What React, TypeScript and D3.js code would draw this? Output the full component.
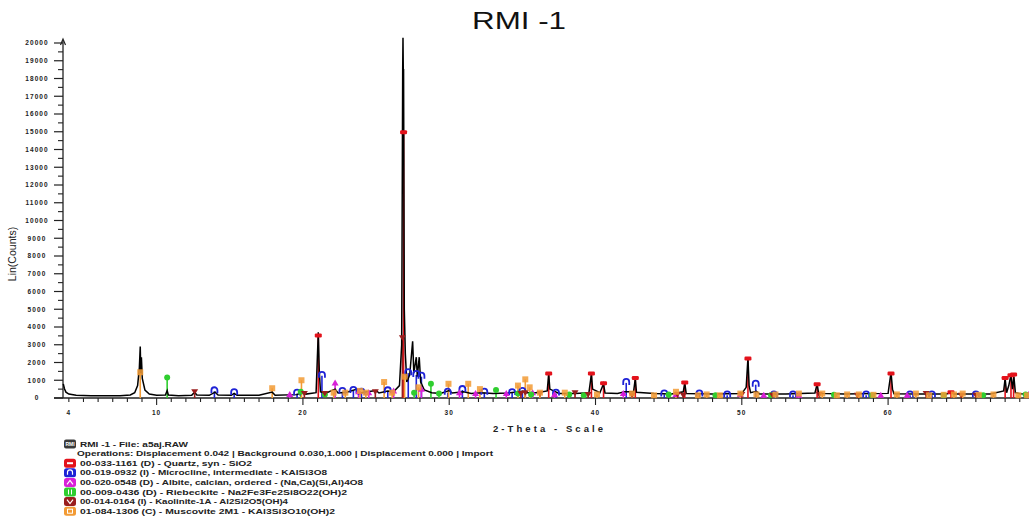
import React from 'react';
import * as d3 from 'd3';

const title = 'RMI -1';
const yLabel = 'Lin(Counts)';
const xLabel = '2-Theta - Scale';
const xTickLabels = [4, 10, 20, 30, 40, 50, 60];
const yTickValues = d3.range(0, 20001, 1000);

// measured pattern (2-theta, counts)
const profile: [number, number][] = [
  [3.62, 800], [3.7, 520], [3.8, 330], [4.0, 220], [4.5, 160], [5.5, 130], [6.5, 120], [7.5, 130],
  [8.2, 170], [8.5, 300], [8.7, 700], [8.82, 1700], [8.88, 2900], [8.92, 1400], [8.96, 2300], [9.02, 1100],
  [9.2, 450], [9.5, 220], [10.0, 150], [10.6, 170], [10.72, 420], [10.8, 170], [11.5, 130], [12.4, 160],
  [12.6, 320], [12.75, 170], [13.6, 150], [14.0, 330], [14.2, 170], [15.1, 150], [15.3, 260], [15.5, 150],
  [17.0, 150], [17.9, 330], [18.1, 160], [19.6, 190], [20.0, 330], [20.2, 220], [20.9, 300], [21.05, 3700],
  [21.12, 1500], [21.2, 350], [21.6, 280], [22.2, 500], [22.4, 280], [23.0, 320], [23.7, 500], [23.9, 280],
  [24.4, 350], [25.0, 420], [25.2, 280], [25.8, 400], [26.2, 350], [26.6, 700], [26.75, 3000], [26.82, 18500],
  [26.84, 20300], [26.86, 18500], [26.88, 18500], [26.93, 5000], [27.0, 2500], [27.1, 900], [27.3, 1300], [27.5, 3200], [27.58, 1400],
  [27.75, 2300], [27.82, 1200], [27.95, 2300], [28.05, 900], [28.3, 450], [28.8, 300], [29.4, 260], [30.0, 420],
  [30.2, 280], [31.0, 350], [31.5, 260], [32.2, 300], [33.0, 250], [34.0, 280], [35.0, 380], [35.3, 300],
  [36.0, 300], [36.7, 400], [36.8, 1350], [36.88, 500], [37.5, 260], [38.6, 250], [39.55, 300], [39.72, 1350],
  [39.8, 500], [40.3, 300], [40.55, 800], [40.65, 280], [41.5, 260], [42.0, 350], [42.6, 350], [42.72, 1100],
  [42.8, 320], [44.0, 250], [45.2, 230], [46.0, 350], [46.1, 850], [46.2, 250], [48.0, 230], [50.0, 260],
  [50.3, 600], [50.42, 2250], [50.5, 700], [50.6, 300], [51.0, 380], [51.2, 230], [53.0, 230], [55.0, 280],
  [55.15, 800], [55.25, 260], [57.0, 220], [60.0, 260], [60.2, 1450], [60.3, 500], [60.4, 240], [62.0, 220],
  [64.0, 230], [64.4, 330], [64.5, 220], [67.0, 220], [67.9, 400], [68.0, 1100], [68.1, 300], [68.25, 700],
  [68.4, 1300], [68.5, 500], [68.6, 1200], [68.7, 300], [69.0, 240], [69.7, 230],
];

// phase stick patterns (2-theta, counts)
const quartz: [number, number][] = [
  [21.05, 3500], [26.88, 14950], [36.8, 1350], [39.72, 1350], [40.55, 800], [42.72, 1100], [46.1, 850],
  [50.42, 2200], [55.15, 750], [60.2, 1350], [64.3, 300], [68.0, 1100], [68.4, 1250], [68.58, 1300],
];
const microcline: [number, number][] = [
  [13.95, 380], [15.3, 280], [19.6, 250], [21.3, 1250], [22.7, 350], [23.45, 400], [24.0, 300], [25.8, 380],
  [27.2, 1400], [27.75, 1300], [28.1, 1200], [29.9, 300], [30.9, 450], [32.4, 300], [34.3, 280], [35.0, 350],
  [37.3, 250], [42.1, 850], [44.7, 200], [47.1, 200], [49.0, 150], [50.95, 750], [52.2, 150], [53.5, 150],
  [58.5, 150], [61.5, 150], [63.0, 150], [66.0, 150],
];
const albite: [number, number][] = [
  [19.1, 200], [22.2, 850], [23.8, 350], [24.5, 300], [26.2, 400], [28.1, 500], [30.7, 300], [31.8, 250],
  [33.9, 250], [35.7, 300], [37.2, 200], [41.9, 250], [45.5, 200], [49.9, 200], [51.5, 150], [53.9, 150],
  [59.5, 150], [61.3, 150], [69.6, 200],
];
const riebeckite: [number, number][] = [
  [10.72, 1150], [19.85, 350], [21.5, 200], [27.6, 300], [28.75, 800], [29.3, 250], [33.2, 450], [34.7, 250],
  [35.6, 200], [38.2, 200], [39.2, 150], [45.0, 200], [48.2, 150], [52.0, 150], [56.3, 180], [58.9, 150],
  [63.8, 150], [66.5, 150], [69.4, 200],
];
const kaolinite: [number, number][] = [
  [12.6, 350], [20.1, 250], [21.5, 250], [24.95, 350], [26.8, 3400], [34.9, 250], [35.2, 300], [36.2, 250],
  [38.6, 300], [39.5, 200], [42.5, 150], [45.6, 200], [46.0, 150], [50.0, 200], [52.1, 150], [55.3, 200],
  [57.9, 150], [62.6, 250], [65.0, 150], [66.0, 150],
];
const muscovite: [number, number][] = [
  [8.88, 1450], [17.9, 550], [19.9, 1000], [22.1, 300], [22.9, 300], [23.9, 400], [24.3, 300], [25.55, 900],
  [26.1, 300], [26.95, 1200], [27.9, 600], [29.95, 800], [31.3, 800], [32.1, 500], [34.7, 700], [35.2, 1050],
  [35.5, 600], [36.2, 300], [37.9, 300], [40.1, 200], [42.5, 250], [44.0, 150], [45.5, 350], [47.0, 150],
  [47.6, 200], [48.5, 150], [49.9, 250], [51.0, 200], [52.3, 200], [53.9, 250], [55.5, 250], [56.5, 150],
  [57.2, 200], [58.0, 200], [59.0, 180], [60.6, 200], [61.9, 250], [62.8, 150], [63.8, 180], [64.5, 200],
  [65.1, 250], [66.2, 180], [67.2, 200], [68.9, 150], [69.5, 150],
];

const phaseNames = [
  '00-033-1161 (D) - Quartz, syn - SiO2',
  '00-019-0932 (I) - Microcline, intermediate - KAlSi3O8',
  '00-020-0548 (D) - Albite, calcian, ordered - (Na,Ca)(Si,Al)4O8',
  '00-009-0436 (D) - Riebeckite - Na2Fe3Fe2Si8O22(OH)2',
  '00-014-0164 (I) - Kaolinite-1A - Al2Si2O5(OH)4',
  '01-084-1306 (C) - Muscovite 2M1 - KAl3Si3O10(OH)2',
];
const phaseColors = ['#e3121b', '#1e22d6', '#d81fd8', '#2fce2f', '#9a1e1e', '#f29b35'];
const phaseShapes = ['bar', 'arc', 'tri', 'circle', 'dtri', 'square'];
const phaseData = [quartz, microcline, albite, riebeckite, kaolinite, muscovite];
const phaseTextEnds = [252, 327, 363, 347, 288, 335];
const fileLine = 'RMI -1 - File: a5aj.RAW';
const opsLine = 'Operations: Displacement 0.042 | Background 0.030,1.000 | Displacement 0.000 | Import';

const x = d3.scaleLinear().domain([3.6, 69.7]).range([63, 1030]);
const y = d3.scaleLinear().domain([0, 20000]).range([398, 43]);

function Marker({ shape, cx, cy, color }: { shape: string; cx: number; cy: number; color: string }) {
  if (shape === 'bar') return <rect x={cx - 3.5} y={cy - 2.5} width={7} height={4} rx={1.2} fill={color} />;
  if (shape === 'arc')
    return <path d={`M${cx - 3},${cy + 2} L${cx - 3},${cy - 1} A3,3 0 0 1 ${cx + 3},${cy - 1} L${cx + 3},${cy + 2}`} fill="none" stroke={color} strokeWidth={1.8} />;
  if (shape === 'tri') return <path d={`M${cx},${cy - 3.5} L${cx + 3.5},${cy + 2.5} L${cx - 3.5},${cy + 2.5}Z`} fill={color} />;
  if (shape === 'circle') return <circle cx={cx} cy={cy} r={3} fill={color} />;
  if (shape === 'dtri') return <path d={`M${cx - 3.5},${cy - 2.5} L${cx + 3.5},${cy - 2.5} L${cx},${cy + 3}Z`} fill={color} />;
  return <rect x={cx - 3} y={cy - 3} width={6} height={6} fill={color} fillOpacity={0.85} />;
}

function LegendIcon({ shape, color, x0, yc }: { shape: string; color: string; x0: number; yc: number }) {
  const cx = x0 + 6, cy = yc;
  let inner: React.ReactNode = null;
  if (shape === 'bar') inner = <rect x={cx - 3} y={cy - 1} width={6} height={2} fill="#fff" />;
  else if (shape === 'arc') inner = <path d={`M${cx - 2.5},${cy + 2} L${cx - 2.5},${cy - 0.5} A2.5,2.5 0 0 1 ${cx + 2.5},${cy - 0.5} L${cx + 2.5},${cy + 2}`} fill="none" stroke="#fff" strokeWidth={1.2} />;
  else if (shape === 'tri') inner = <path d={`M${cx - 3},${cy + 2} L${cx},${cy - 2} L${cx + 3},${cy + 2}`} fill="none" stroke="#fff" strokeWidth={1.2} />;
  else if (shape === 'circle') inner = <path d={`M${cx - 1.5},${cy - 2.5} L${cx - 1.5},${cy + 2.5} M${cx + 1.5},${cy - 2.5} L${cx + 1.5},${cy + 2.5}`} stroke="#fff" strokeWidth={1} />;
  else if (shape === 'dtri') inner = <path d={`M${cx - 3},${cy - 2} L${cx},${cy + 2} L${cx + 3},${cy - 2}`} fill="none" stroke="#fff" strokeWidth={1.2} />;
  else inner = <rect x={cx - 2.5} y={cy - 2} width={5} height={4} fill="none" stroke="#fff" strokeWidth={1} />;
  return (
    <g>
      <rect x={x0} y={yc - 4.5} width={12} height={9} rx={2.5} fill={color} />
      {inner}
    </g>
  );
}

export default function App() {
  const line = d3.line<[number, number]>().x(d => x(d[0])).y(d => y(d[1]));
  const xMinor = d3.range(4, 70, 1);
  const yMinor = d3.range(500, 20000, 1000);
  const legendRows = d3.range(8).map(i => 444 + i * 9.6);
  const tickFont = { fontFamily: 'Liberation Sans, Arial, sans-serif', fontWeight: 700 as const, fontSize: 6.5, letterSpacing: 1.1, fill: '#222' };
  const legendFont = { fontFamily: 'Liberation Sans, Arial, sans-serif', fontWeight: 700 as const, fontSize: 7, fill: '#222' };

  return (
    <svg width={1029} height={516} style={{ position: 'absolute', left: 0, top: 0, background: '#fff' }}>
      <text x={519} y={29} textAnchor="middle" fontFamily="Liberation Sans, Arial, sans-serif" fontSize={23} textLength={94} lengthAdjust="spacingAndGlyphs" fill="#111">{title}</text>

      {/* y axis */}
      <line x1={63} x2={63} y1={40} y2={398} stroke="#222" strokeWidth={1.3} />
      <path d="M60.5,45 L63,39 L65.5,45" fill="none" stroke="#222" strokeWidth={1.2} />
      {yTickValues.map(v => (
        <g key={'yt' + v}>
          <line x1={54} x2={63} y1={y(v)} y2={y(v)} stroke="#222" strokeWidth={1.2} />
          <text x={37} y={y(v) + 2.3} textAnchor="middle" {...tickFont}>{v}</text>
        </g>
      ))}
      {yMinor.map(v => (
        <line key={'ym' + v} x1={58} x2={63} y1={y(v)} y2={y(v)} stroke="#222" strokeWidth={1.1} />
      ))}
      <text transform="translate(16,254) rotate(-90)" textAnchor="middle" fontFamily="Liberation Sans, Arial, sans-serif" fontSize={10.5} fill="#222">{yLabel}</text>

      {/* x axis */}
      <line x1={54} x2={1029} y1={398} y2={398} stroke="#222" strokeWidth={1.3} />
      {xMinor.map(v => (
        <line key={'xm' + v} x1={x(v)} x2={x(v)} y1={398} y2={v % 10 === 0 ? 405 : 402} stroke="#222" strokeWidth={1.1} />
      ))}
      {xTickLabels.map(v => (
        <text key={'xl' + v} x={x(v)} y={415} textAnchor="middle" {...tickFont}>{v}</text>
      ))}
      <text x={548} y={432} textAnchor="middle" fontFamily="Liberation Sans, Arial, sans-serif" fontSize={9.5} fontWeight={700} textLength={110} fill="#222">{xLabel}</text>

      {/* stick lines */}
      {phaseData.map((data, i) => (
        <g key={'st' + i}>
          {data.map((d, j) => (
            <line key={j} x1={x(d[0])} x2={x(d[0])} y1={y(0)} y2={y(d[1])} stroke={phaseColors[i]} strokeWidth={1.6} />
          ))}
        </g>
      ))}

      {/* pattern */}
      <path d={line(profile) || ''} fill="none" stroke="#000" strokeWidth={1.5} />

      {/* markers */}
      {phaseData.map((data, i) => (
        <g key={'mk' + i}>
          {data.map((d, j) => (
            <Marker key={j} shape={phaseShapes[i]} cx={x(d[0])} cy={y(d[1])} color={phaseColors[i]} />
          ))}
        </g>
      ))}

      {/* legend */}
      <g>
        <rect x={64} y={legendRows[0] - 4.5} width={12} height={9} rx={2} fill="#3a3a3a" />
        <text x={70} y={legendRows[0] + 2} textAnchor="middle" fontFamily="Liberation Sans, Arial, sans-serif" fontSize={5} fontWeight={700} fill="#fff">RMI</text>
        <text x={80} y={legendRows[0] + 2.5} {...legendFont} textLength={108} lengthAdjust="spacingAndGlyphs">{fileLine}</text>
        <text x={77} y={legendRows[1] + 2.5} {...legendFont} textLength={416} lengthAdjust="spacingAndGlyphs">{opsLine}</text>
        {phaseNames.map((n, i) => (
          <g key={'lg' + i}>
            <LegendIcon shape={phaseShapes[i]} color={phaseColors[i]} x0={64} yc={legendRows[i + 2]} />
            <text x={80} y={legendRows[i + 2] + 2.5} {...legendFont} textLength={phaseTextEnds[i] - 80} lengthAdjust="spacingAndGlyphs">{n}</text>
          </g>
        ))}
      </g>
    </svg>
  );
}
